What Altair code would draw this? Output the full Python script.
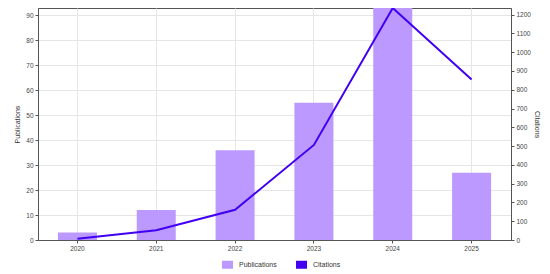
import altair as alt
import pandas as pd

years = ["2020", "2021", "2022", "2023", "2024", "2025"]
publications = [3, 12, 36, 55, 93, 27]
citations = [7, 52, 161, 506, 1235, 854]

df = pd.DataFrame({"year": years, "Publications": publications, "Citations": citations})

FONT = "Liberation Sans"
BAR_COLOR = "#bb99ff"
LINE_COLOR = "#4200f2"

color_scale = alt.Scale(domain=["Publications", "Citations"], range=[BAR_COLOR, LINE_COLOR])
RECT = "M-1,-0.727L1,-0.727L1,0.727L-1,0.727Z"

x_enc = alt.X(
    "year:O",
    scale=alt.Scale(paddingInner=0, paddingOuter=0),
    axis=alt.Axis(title=None, labelAngle=0, grid=True, bandPosition=0.5,
                  tickSize=3, labelPadding=2, domain=True),
)

bars = alt.Chart(df).transform_calculate(series="'Publications'").mark_bar(size=39).encode(
    x=x_enc,
    y=alt.Y("Publications:Q",
            scale=alt.Scale(domain=[0, 93], nice=False, zero=True),
            axis=alt.Axis(orient="left", title="Publications", values=list(range(0, 91, 10)),
                          grid=True, tickSize=3, labelPadding=2, titlePadding=5)),
    color=alt.Color("series:N", scale=color_scale,
                    legend=alt.Legend(title=None, orient="none", direction="horizontal",
                                      legendX=184, legendY=251, symbolType=RECT,
                                      symbolSize=121, symbolStrokeWidth=0, padding=0,
                                      labelFontSize=7, labelFont=FONT, labelColor="#333",
                                      labelOffset=6, columnPadding=19)),
)

line = alt.Chart(df).transform_calculate(series="'Citations'").mark_line(strokeWidth=2).encode(
    x=x_enc,
    y=alt.Y("Citations:Q",
            scale=alt.Scale(domain=[0, 1235], nice=False, zero=True),
            axis=alt.Axis(orient="right", title="Citations", values=list(range(0, 1201, 100)),
                          format="d", grid=False, tickSize=3, labelPadding=2,
                          titlePadding=3, titleAngle=90)),
    color=alt.Color("series:N", scale=color_scale),
)

chart = alt.layer(bars, line).resolve_scale(y="independent").properties(
    width=473, height=232,
    autosize=alt.AutoSizeParams(type="none"),
    padding={"left": 30, "top": 0, "right": 31, "bottom": 30},
).configure_view(
    stroke="#555", strokeWidth=1,
).configure_axis(
    labelFont=FONT, titleFont=FONT, labelFontSize=6.5, titleFontSize=7,
    labelColor="#444", titleColor="#333", titleFontWeight="normal",
    domainColor="#555", tickColor="#555", gridColor="#e6e6e6",
)

chart.save("out.html", embed_options={"renderer": "svg", "actions": False})
